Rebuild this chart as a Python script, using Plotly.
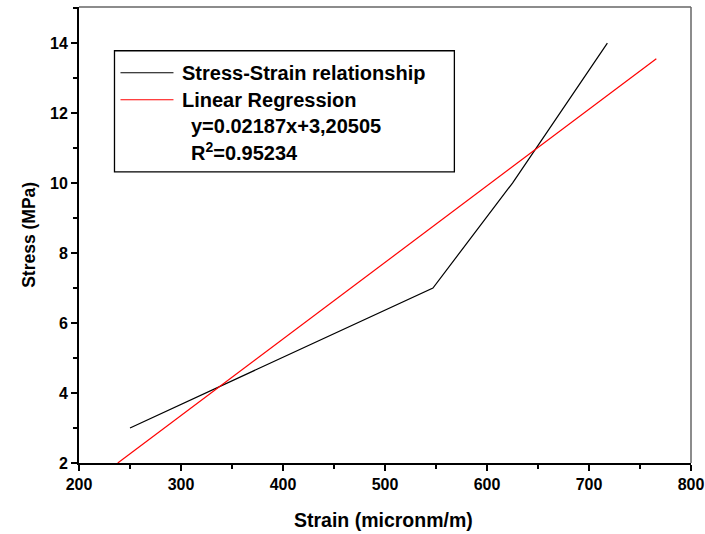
import plotly.graph_objects as go

# Data
strain = [250, 547, 625, 718]
stress = [3, 7, 10, 14]
reg_x = [238, 766]
reg_y = [2.0, 13.55]

series_names = ["Stress-Strain relationship", "Linear Regression"]
equation_text = "y=0.02187x+3,20505"
r2_text = "R<sup>2</sup>=0.95234"
x_title = "Strain (micronm/m)"
y_title = "Stress (MPa)"
x_ticks = [200, 300, 400, 500, 600, 700, 800]
y_ticks = [2, 4, 6, 8, 10, 12, 14]

W, H = 705, 534
ml, mr, mt, mb = 78.5, 14.3, 7.3, 71
pw = W - ml - mr
ph = H - mt - mb

def px(x):
    return (x - ml) / pw

def py(y):
    return 1 - (y - mt) / ph

font_main = "Liberation Sans, Arial, sans-serif"

fig = go.Figure()
fig.add_trace(go.Scatter(x=strain, y=stress, mode="lines",
                         line=dict(color="black", width=1.2),
                         name=series_names[0], showlegend=False))
fig.add_trace(go.Scatter(x=reg_x, y=reg_y, mode="lines",
                         line=dict(color="red", width=1.2),
                         name=series_names[1], showlegend=False))

shapes = []
# legend box
shapes.append(dict(type="rect", xref="paper", yref="paper",
                   x0=px(114), x1=px(454), y0=py(172), y1=py(51),
                   line=dict(color="black", width=1.3), fillcolor="rgba(0,0,0,0)"))
shapes.append(dict(type="line", xref="paper", yref="paper",
                   x0=px(120), x1=px(173), y0=py(73), y1=py(73),
                   line=dict(color="black", width=1.2)))
shapes.append(dict(type="line", xref="paper", yref="paper",
                   x0=px(120), x1=px(173), y0=py(100), y1=py(100),
                   line=dict(color="red", width=1.2)))
# top and right frame (gray, thin)
shapes.append(dict(type="line", xref="paper", yref="paper", x0=0, x1=1, y0=1, y1=1,
                   line=dict(color="#666666", width=1.5)))
shapes.append(dict(type="line", xref="paper", yref="paper", x0=1, x1=1, y0=0, y1=1,
                   line=dict(color="#666666", width=1.5)))

annotations = []
lf = dict(family=font_main, size=20, color="black", weight="bold")
annotations.append(dict(xref="paper", yref="paper", x=px(180), y=py(73),
                        text=series_names[0], showarrow=False,
                        xanchor="left", yanchor="middle", font=lf))
annotations.append(dict(xref="paper", yref="paper", x=px(180), y=py(100),
                        text=series_names[1], showarrow=False,
                        xanchor="left", yanchor="middle", font=lf))
annotations.append(dict(xref="paper", yref="paper", x=px(189), y=py(126),
                        text=equation_text, showarrow=False,
                        xanchor="left", yanchor="middle", font=lf))
annotations.append(dict(xref="paper", yref="paper", x=px(189), y=py(152),
                        text=r2_text, showarrow=False,
                        xanchor="left", yanchor="middle", font=lf))
annotations.append(dict(xref="paper", yref="paper", x=px(383), y=py(520),
                        text=x_title, showarrow=False,
                        xanchor="center", yanchor="middle",
                        font=dict(family=font_main, size=19.5, color="black", weight="bold")))
annotations.append(dict(xref="paper", yref="paper", x=px(29), y=py(235.5),
                        text=y_title, showarrow=False, textangle=-90,
                        xanchor="center", yanchor="middle",
                        font=dict(family=font_main, size=17.5, color="black", weight="bold")))

tick_font = dict(family=font_main, size=16, color="black", weight="bold")

fig.update_layout(
    width=W, height=H,
    margin=dict(l=ml, r=mr, t=mt, b=mb, pad=0),
    paper_bgcolor="white", plot_bgcolor="white",
    font=dict(family=font_main, color="black"),
    shapes=shapes, annotations=annotations,
    xaxis=dict(range=[200, 800], tickvals=x_ticks, automargin=False,
               ticks="outside", ticklen=6, tickwidth=2, tickcolor="black",
               showline=True, linecolor="black", linewidth=2,
               showgrid=False, zeroline=False,
               minor=dict(tickvals=[250, 350, 450, 550, 650, 750], ticks="outside",
                          ticklen=4, tickwidth=2, tickcolor="black", showgrid=False),
               tickfont=tick_font),
    yaxis=dict(range=[2, 15.03], tickvals=y_ticks, automargin=False,
               ticks="outside", ticklen=6, tickwidth=2, tickcolor="black",
               showline=True, linecolor="black", linewidth=2,
               showgrid=False, zeroline=False,
               minor=dict(tickvals=[3, 5, 7, 9, 11, 13, 15], ticks="outside",
                          ticklen=4, tickwidth=2, tickcolor="black", showgrid=False),
               tickfont=tick_font),
)

fig.write_html("out.html", config={"displayModeBar": False},
               post_script="document.body.style.margin='0';document.body.style.padding='0';")
